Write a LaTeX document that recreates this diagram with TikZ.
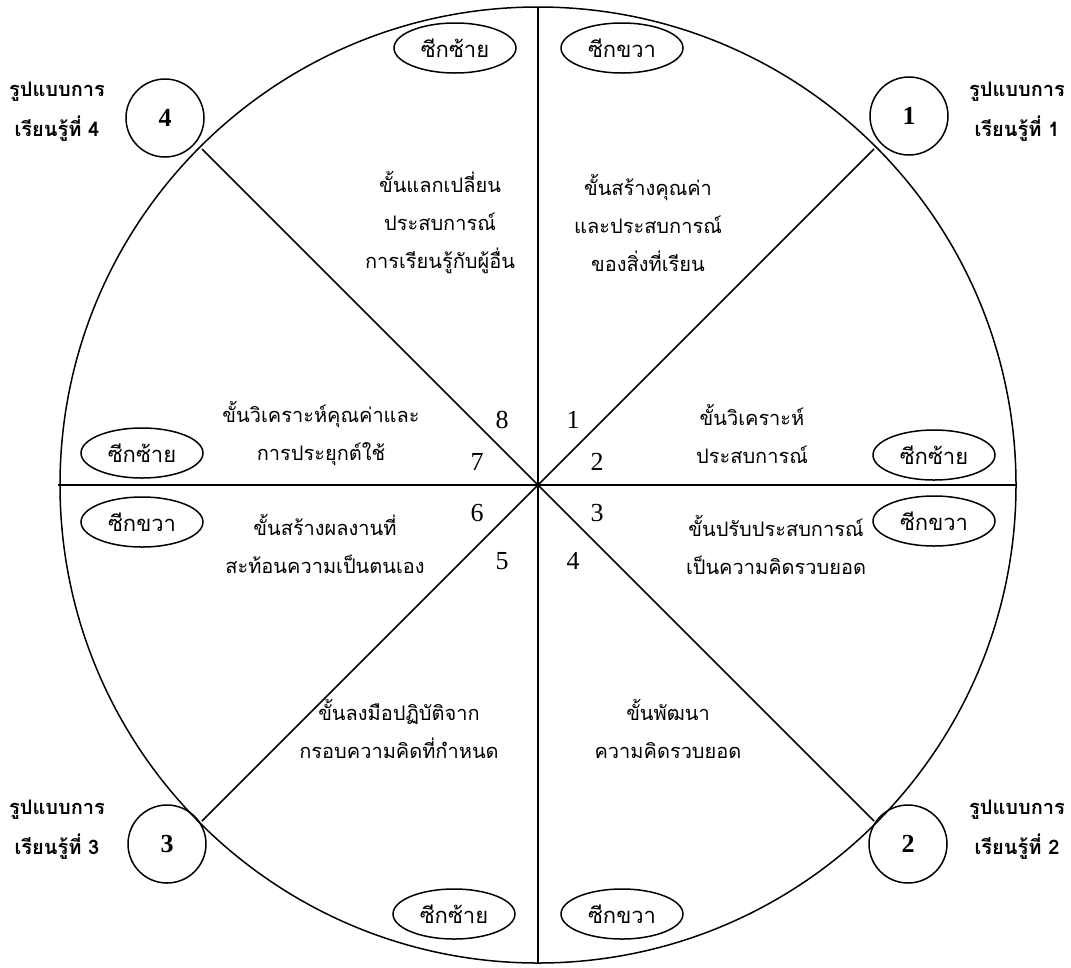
\documentclass[tikz,border=0pt]{standalone}
\usepackage{fontspec}
\setmainfont{Liberation Serif}
\newfontfamily\thaifont[Script=Thai]{Loma}
\usetikzlibrary{shapes.geometric}
\begin{document}
\begin{tikzpicture}[x=1pt,y=-1pt,line width=1.5pt,
  thai/.style={font=\thaifont\fontsize{20}{38}\selectfont,align=center,inner sep=0pt},
  side/.style={draw,ellipse,minimum width=122pt,minimum height=50pt,inner sep=0pt,font=\thaifont\fontsize{22}{24}\selectfont},
  num/.style={font=\fontsize{26}{26}\selectfont,inner sep=0pt},
  stage/.style={draw,circle,minimum size=78pt,inner sep=0pt,font=\bfseries\fontsize{26}{26}\selectfont},
  lbl/.style={font=\thaifont\bfseries\fontsize{20}{40}\selectfont,align=center,inner sep=0pt}]
\useasboundingbox (0,0) rectangle (1071,967);
\fill[white] (0,0) rectangle (1071,967);
% main circle and spokes
\coordinate (O) at (538,485);
\coordinate (N) at (538,7);
\coordinate (S) at (538,963);
\coordinate (W) at (58,485);
\coordinate (E) at (1016,485);
\coordinate (NW) at (202,149);
\coordinate (NE) at (874,149);
\coordinate (SW) at (202,821);
\coordinate (SE) at (874,821);
\draw (O) circle (478);
\draw (N) -- (S);
\draw (W) -- (E);
\draw (NW) -- (SE);
\draw (NE) -- (SW);
\fill (O) circle (2.5);
% sector numbers
\node[num] (n1) at (573,420) {1};
\node[num] (n2) at (597,462) {2};
\node[num] (n3) at (597,513) {3};
\node[num] (n4) at (573,561) {4};
\node[num] (n5) at (502,561) {5};
\node[num] (n6) at (477,513) {6};
\node[num] (n7) at (477,462) {7};
\node[num] (n8) at (502,420) {8};
% stage texts
\node[thai] (t8) at (440,223) {ขั้นแลกเปลี่ยน\\ประสบการณ์\\การเรียนรู้กับผู้อื่น};
\node[thai] (t1) at (648,223) {ขั้นสร้างคุณค่า\\และประสบการณ์\\ของสิ่งที่เรียน};
\node[thai] (t7) at (321,434) {ขั้นวิเคราะห์คุณค่าและ\\การประยุกต์ใช้};
\node[thai] (t6) at (325,544) {ขั้นสร้างผลงานที่\\สะท้อนความเป็นตนเอง};
\node[thai] (t2) at (752,434) {ขั้นวิเคราะห์\\ประสบการณ์};
\node[thai] (t3) at (776,545) {ขั้นปรับประสบการณ์\\เป็นความคิดรวบยอด};
\node[thai] (t5) at (399,729) {ขั้นลงมือปฏิบัติจาก\\กรอบความคิดที่กำหนด};
\node[thai] (t4) at (668,729) {ขั้นพัฒนา\\ความคิดรวบยอด};
% hemisphere ellipses
\node[side] (e1) at (455,48) {ซีกซ้าย};
\node[side] (e2) at (622,48) {ซีกขวา};
\node[side] (e3) at (142,453) {ซีกซ้าย};
\node[side] (e4) at (142,522) {ซีกขวา};
\node[side] (e5) at (934,455) {ซีกซ้าย};
\node[side] (e6) at (934,521) {ซีกขวา};
\node[side] (e7) at (454,914) {ซีกซ้าย};
\node[side] (e8) at (622,914) {ซีกขวา};
% learning-style circles
\node[stage] (c4) at (165,118) {4};
\node[stage] (c1) at (909,116) {1};
\node[stage] (c3) at (167,844) {3};
\node[stage] (c2) at (908,844) {2};
\node[lbl] (l4) at (57,112) {รูปแบบการ\\เรียนรู้ที่ 4};
\node[lbl] (l1) at (1017,112) {รูปแบบการ\\เรียนรู้ที่ 1};
\node[lbl] (l3) at (57,830) {รูปแบบการ\\เรียนรู้ที่ 3};
\node[lbl] (l2) at (1017,830) {รูปแบบการ\\เรียนรู้ที่ 2};
\end{tikzpicture}
\end{document}
